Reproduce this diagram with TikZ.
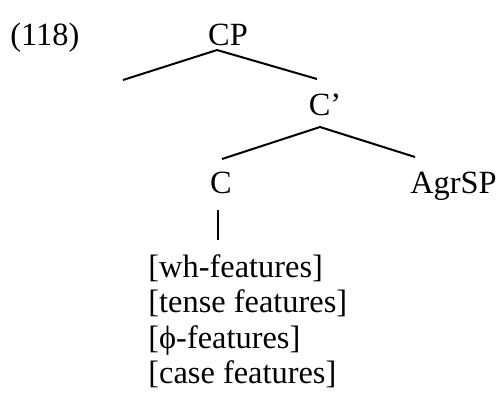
\documentclass[tikz,border=0pt]{standalone}
\usepackage{fontspec}
\setmainfont{Liberation Serif}
\begin{document}
\begin{tikzpicture}[x=0.5pt,y=-0.5pt,
  lbl/.style={anchor=base,inner sep=0pt,font=\fontsize{16.2}{19}\selectfont},
  feat/.style={anchor=base west,inner sep=0pt,font=\fontsize{16.2}{19}\selectfont},
  branch/.style={line width=1pt}]
\useasboundingbox (0,0) rectangle (501,397);
\node[lbl,anchor=base west] (num) at (10,45) {(118)};
\node[lbl] (CP) at (228,45) {CP};
\node[lbl] (Cbar) at (325,115) {C’};
\node[lbl] (C) at (221,193) {C};
\node[lbl] (AgrSP) at (453.5,193) {AgrSP};
\node[feat] (f1) at (148,277) {[wh-features]};
\node[feat] (f2) at (148,312.5) {[tense features]};
\node[feat] (f3) at (148,348) {[ϕ-features]};
\node[feat] (f4) at (148,383.5) {[case features]};
\coordinate (cpTop) at (217,50);
\coordinate (cpL) at (123,80);
\coordinate (cpR) at (317,79);
\coordinate (cbTop) at (320,127);
\coordinate (cbL) at (222,159);
\coordinate (cbR) at (415,157);
\coordinate (cTop) at (218,210);
\coordinate (cBot) at (218,240);
\draw[branch] (cpL) -- (cpTop) -- (cpR);
\draw[branch] (cbL) -- (cbTop) -- (cbR);
\draw[branch] (cTop) -- (cBot);
\end{tikzpicture}
\end{document}
